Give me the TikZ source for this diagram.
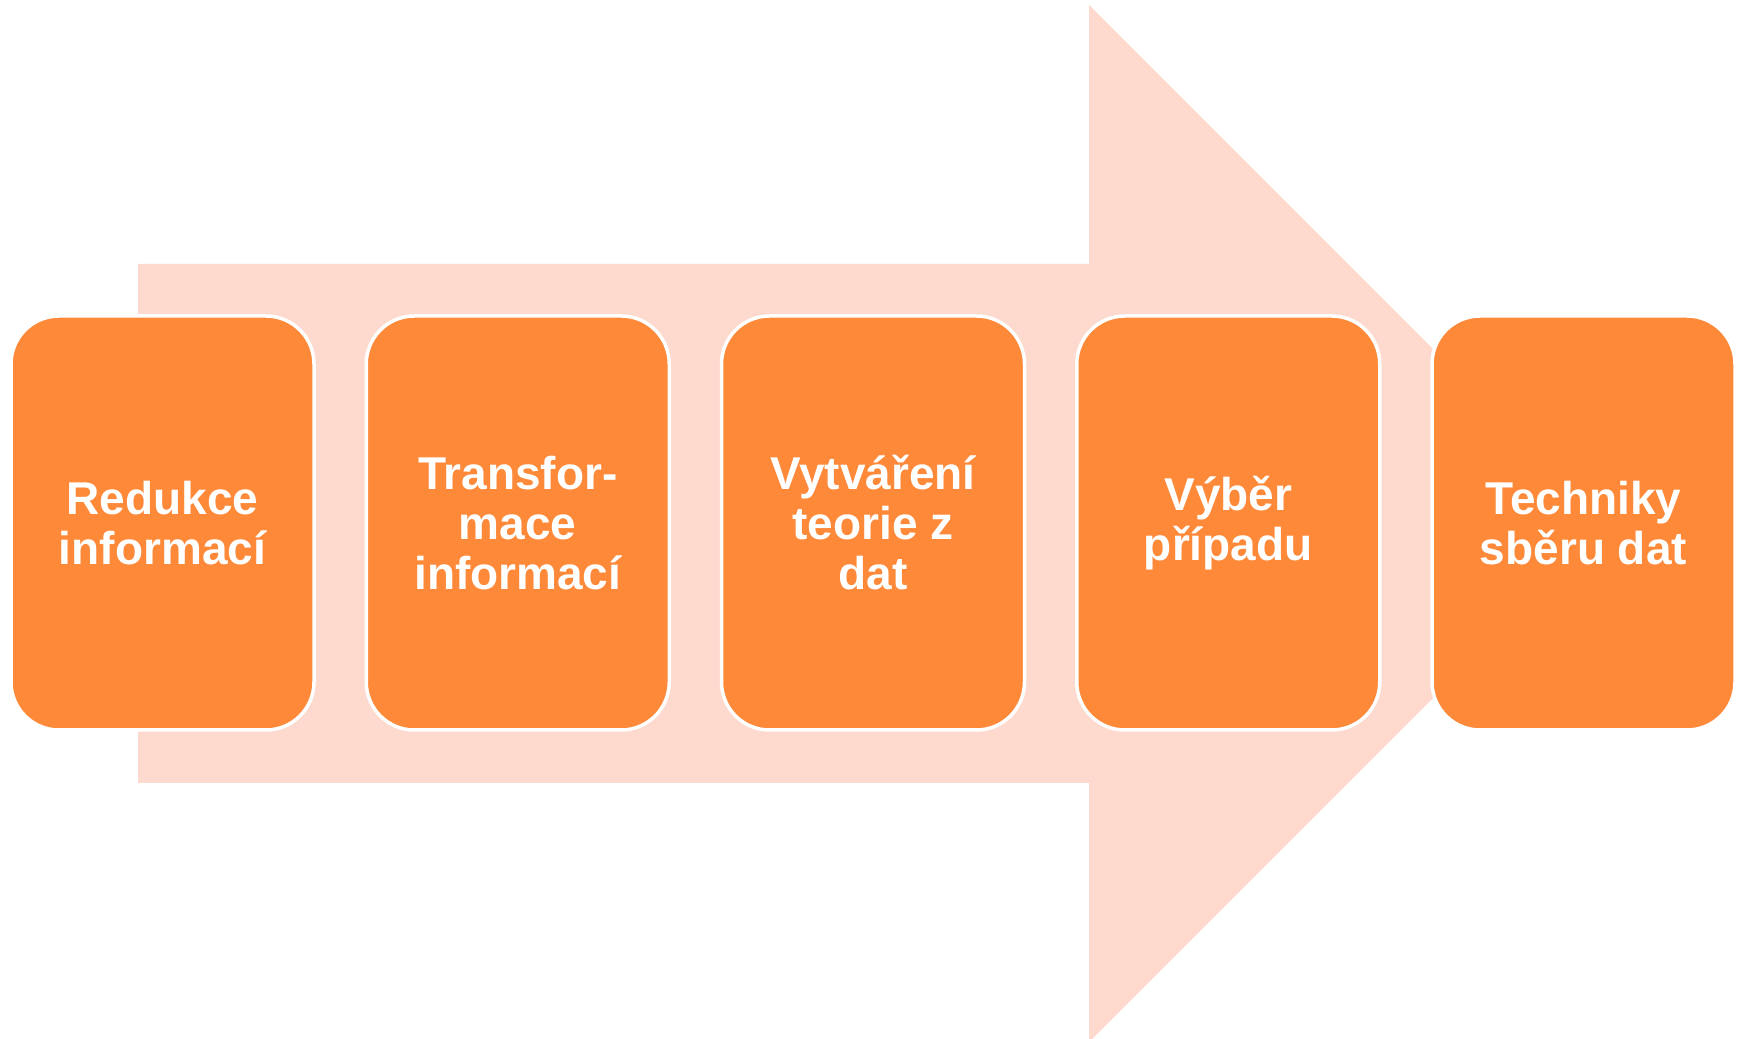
\documentclass[tikz,border=0pt]{standalone}
\usepackage{fontspec}
\setmainfont{Liberation Sans}
\definecolor{arrowpink}{RGB}{253,217,206}
\definecolor{boxorange}{RGB}{253,137,57}

\begin{document}
\begin{tikzpicture}[x=1pt,y=1pt,node distance=355.25pt,
  stepbox/.style={draw=white,line width=3.5pt,fill=boxorange,rounded corners=48pt,
    minimum width=303pt,minimum height=414pt,align=center,text=white,
    font=\bfseries\fontsize{46}{50}\selectfont}]
\useasboundingbox (0,0) rectangle (1741,1039);
% big arrow behind the boxes
\fill[arrowpink] (138,775) -- (1089,775) -- (1089,1034) -- (1607.5,515.5)
  -- (1089,-3) -- (1089,256) -- (138,256) -- cycle;
\node[stepbox] (step_one) at (162.5,516) {Redukce\\informací};
\node[stepbox,right of = step_one] (step_two) {Transfor-\\mace\\informací};
\node[stepbox,right of = step_two] (step_three) {Vytváření\\teorie z\\dat};
\node[stepbox,right of = step_three] (step_four) {Výběr\\případu};
\node[stepbox,right of = step_four] (step_five) {Techniky\\sběru dat};
\end{tikzpicture}
\end{document}
